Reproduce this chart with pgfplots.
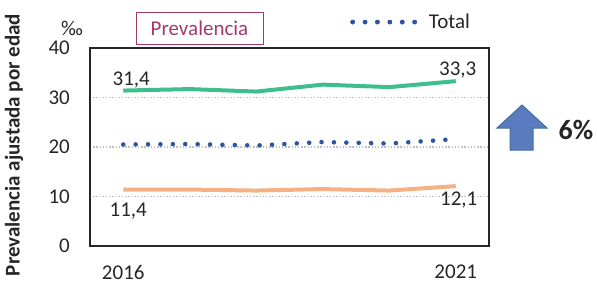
\documentclass[border=0pt]{standalone}
\usepackage{pgfplots}
\pgfplotsset{compat=1.18}
\usepackage{fontspec}
\setmainfont{Carlito}
\definecolor{cgreen}{HTML}{3EBE8C}
\definecolor{corange}{HTML}{F4B183}
\definecolor{cblue}{HTML}{2E55A0}
\definecolor{cmag}{HTML}{A23A6E}
\definecolor{carrow}{HTML}{5B7BC0}
\definecolor{carrowb}{HTML}{41719C}
\definecolor{ctext}{HTML}{262626}
\begin{document}
\begin{tikzpicture}[x=1pt,y=1pt]
\useasboundingbox (0pt,0pt) rectangle (597pt,282pt);
\begin{axis}[
  at={(90pt,36pt)}, anchor=south west, scale only axis,
  width=399pt, height=198pt,
  xmin=2015.5, xmax=2021.5, ymin=0, ymax=40,
  ytick={0,10,20,30,40}, xtick={2016,2021}, xticklabels={2016,2021},
  major tick length=0pt,
  axis line style={line width=1.5pt, color=black!85},
  ymajorgrids,
  grid style={line width=1.3pt, color=black!25, dash pattern=on 1.3pt off 1.9pt},
  /pgf/number format/assume math mode=true,
  ticklabel style={font=\fontsize{21}{25}\selectfont, text=ctext, inner sep=0pt},
  yticklabel style={anchor=east, xshift=-20pt},
  xticklabel style={anchor=north, yshift=-19pt},
  legend style={at={(axis description cs:0.652,1.131)}, anchor=west, draw=none, fill=none, inner sep=0pt,
    font=\fontsize{21}{25}\selectfont, text=ctext},
  legend cell align=left,
  legend image code/.code={\draw[#1] (0pt,0pt) -- (65pt,0pt); \path (0pt,0pt) -- (72pt,0pt);},
  clip=false,
]
\addplot[cgreen, line width=4pt, forget plot] coordinates {(2016,31.4)(2017,31.7)(2018,31.2)(2019,32.6)(2020,32.1)(2021,33.3)};
\addplot[corange, line width=4pt, forget plot] coordinates {(2016,11.4)(2017,11.4)(2018,11.2)(2019,11.5)(2020,11.2)(2021,12.1)};
\addplot[cblue, line width=4.6pt, line cap=round, dash pattern=on 0pt off 12.4pt] coordinates {(2016,20.5)(2017,20.6)(2018,20.3)(2019,21.0)(2020,20.7)(2021,21.6)};
\addlegendentry{Total}
\node[font=\fontsize{21}{25}\selectfont, text=ctext] at (axis cs:2016,31.4) [xshift=8pt, yshift=11pt] {31,4};
\node[font=\fontsize{21}{25}\selectfont, text=ctext] at (axis cs:2021,33.3) [xshift=2pt, yshift=11pt] {33,3};
\node[font=\fontsize{21}{25}\selectfont, text=ctext] at (axis cs:2016,11.4) [xshift=5pt, yshift=-22pt] {11,4};
\node[font=\fontsize{21}{25}\selectfont, text=ctext] at (axis cs:2021,12.1) [xshift=3pt, yshift=-14pt] {12,1};
\end{axis}
\node[font=\fontsize{21}{25}\selectfont, text=ctext] at (72pt,254pt) {‰};
\node[draw=cmag, text=cmag, line width=0.8pt, minimum width=127pt, minimum height=32pt, inner sep=0pt, font=\fontsize{21}{25}\selectfont] at (199.5pt,254pt) {Prevalencia};
\node[rotate=90, font=\bfseries\fontsize{21}{25}\selectfont, text=ctext] at (14pt,137pt) {Prevalencia ajustada por edad};
\draw[draw=carrowb, fill=carrow, line width=1pt, line join=miter] (522pt,177pt) -- (547pt,154pt) -- (533pt,154pt) -- (533pt,132pt) -- (510pt,132pt) -- (510pt,154pt) -- (497pt,154pt) -- cycle;
\node[font=\bfseries\fontsize{28}{32}\selectfont, text=ctext] at (576pt,152pt) {6\%};
\end{tikzpicture}
\end{document}
